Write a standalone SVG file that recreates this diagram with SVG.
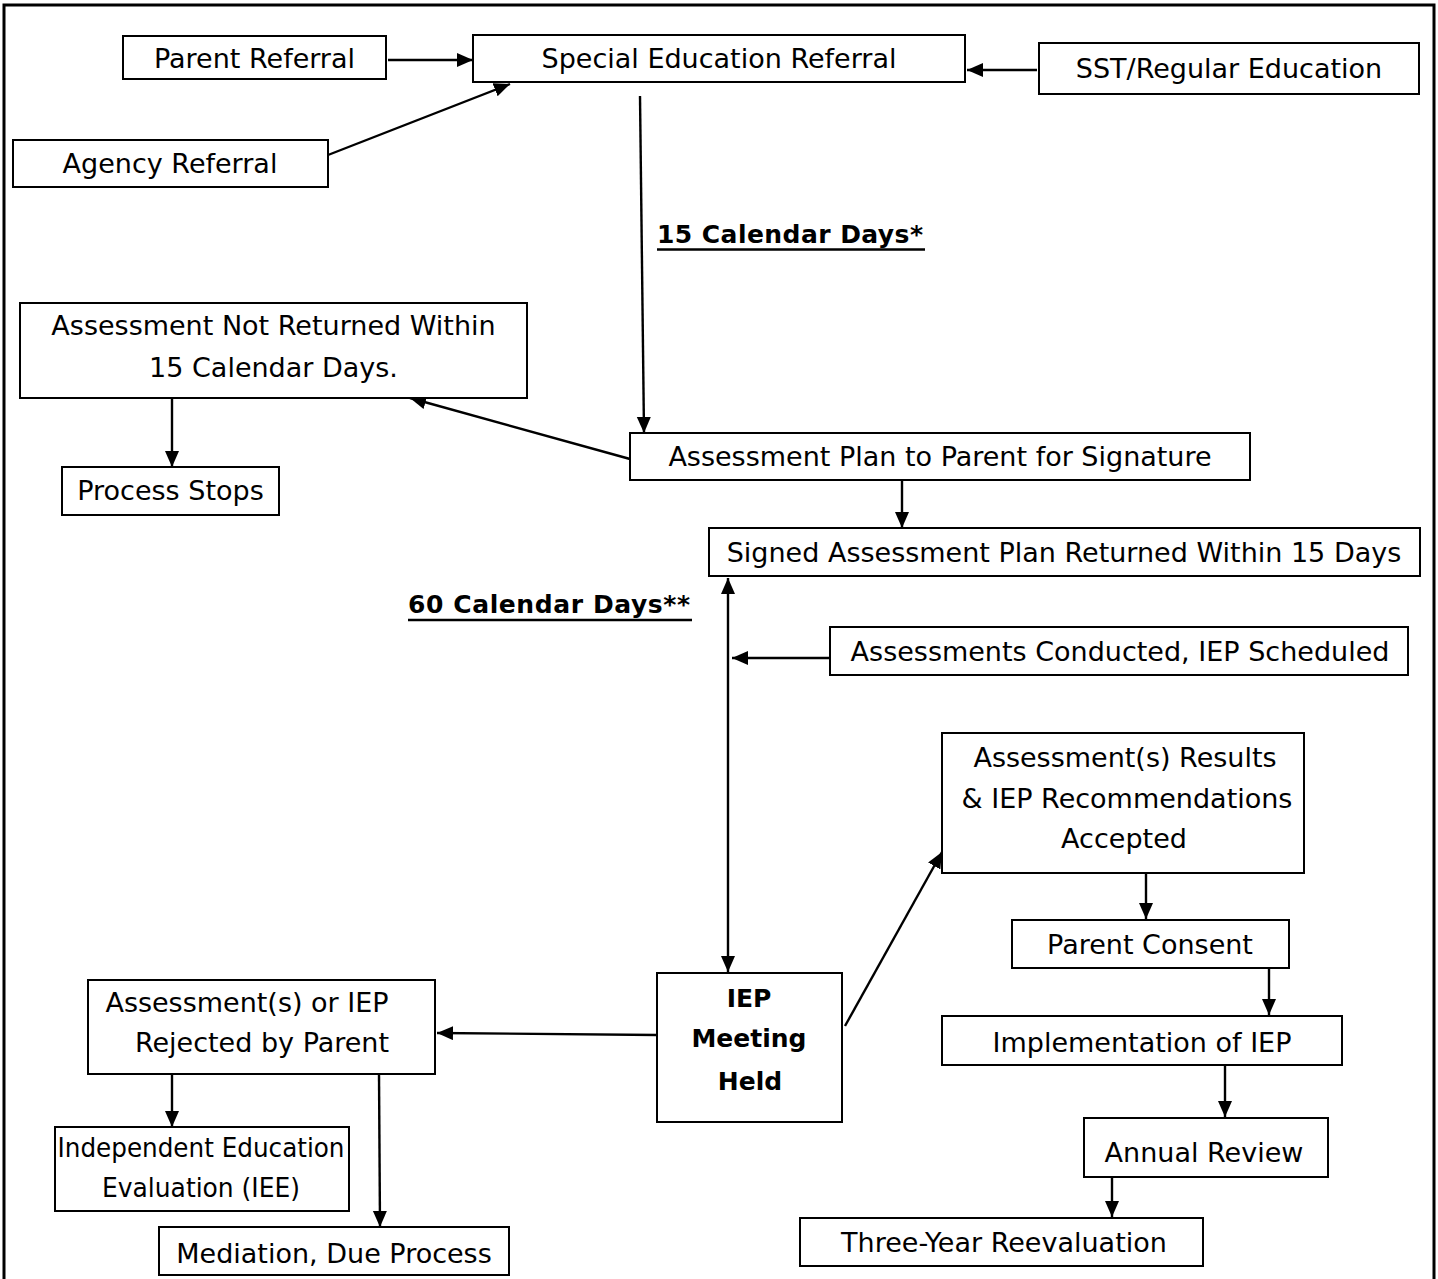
<svg xmlns="http://www.w3.org/2000/svg" width="1438" height="1279" viewBox="0 0 1438 1279">
<defs>
<marker id="ah" markerUnits="userSpaceOnUse" markerWidth="18" markerHeight="16" refX="16" refY="7" orient="auto-start-reverse">
<path d="M0,0 L16,7 L0,14 Z" fill="#000"/>
</marker>
<style>
.box{fill:#fff;stroke:#000;stroke-width:2}
.t{font-family:"DejaVu Sans",sans-serif;font-size:27px;fill:#000;text-anchor:middle}
.b{font-family:"DejaVu Sans",sans-serif;font-weight:bold;font-size:25px;fill:#000}
.c{stroke:#000;stroke-width:2.4;fill:none}
.a{marker-end:url(#ah)}
.u{stroke:#000;stroke-width:2.5}
</style>
</defs>
<rect x="4" y="5" width="1430" height="1290" fill="#fff" stroke="#000" stroke-width="3"/>

<g id="connectors">
<line class="c a" x1="388" y1="60" x2="473" y2="60"/>
<line class="c a" x1="1037" y1="70" x2="967" y2="70"/>
<line class="c a" x1="328" y1="155" x2="510" y2="84"/>
<line class="c a" x1="640" y1="96" x2="644" y2="433"/>
<line class="c a" x1="630" y1="459" x2="410" y2="398"/>
<line class="c a" x1="172" y1="398" x2="172" y2="467"/>
<line class="c a" x1="902" y1="481" x2="902" y2="528"/>
<line class="c a" x1="728" y1="578" x2="728" y2="972" marker-start="url(#ah)"/>
<line class="c a" x1="830" y1="658" x2="732" y2="658"/>
<line class="c a" x1="845" y1="1026" x2="942" y2="852"/>
<line class="c a" x1="657" y1="1035" x2="437" y2="1033"/>
<line class="c a" x1="172" y1="1074" x2="172" y2="1127"/>
<line class="c a" x1="379" y1="1074" x2="380" y2="1227"/>
<line class="c a" x1="1146" y1="873" x2="1146" y2="919"/>
<line class="c a" x1="1269" y1="968" x2="1269" y2="1015"/>
<line class="c a" x1="1225" y1="1065" x2="1225" y2="1117"/>
<line class="c a" x1="1112" y1="1177" x2="1112" y2="1217"/>
</g>

<g id="parent-referral"><rect class="box" x="123" y="36" width="263" height="43"/><text class="t" x="254.5" y="68">Parent Referral</text></g>
<g id="special-education-referral"><rect class="box" x="473" y="35" width="492" height="47"/><text class="t" x="719" y="68">Special Education Referral</text></g>
<g id="sst-regular-education"><rect class="box" x="1039" y="43" width="380" height="51"/><text class="t" x="1229" y="78">SST/Regular Education</text></g>
<g id="agency-referral"><rect class="box" x="13" y="140" width="315" height="47"/><text class="t" x="170" y="173">Agency Referral</text></g>

<g id="label-15-days"><text class="b" x="657" y="243" textLength="266">15 Calendar Days*</text><line class="u" x1="657" y1="249.5" x2="925" y2="249.5"/></g>

<g id="assessment-not-returned"><rect class="box" x="20" y="303" width="507" height="95"/><text class="t" x="273.5" y="335">Assessment Not Returned Within</text><text class="t" x="273.5" y="377">15 Calendar Days.</text></g>
<g id="process-stops"><rect class="box" x="62" y="467" width="217" height="48"/><text class="t" x="170.5" y="500">Process Stops</text></g>
<g id="assessment-plan"><rect class="box" x="630" y="433" width="620" height="47"/><text class="t" x="940" y="466">Assessment Plan to Parent for Signature</text></g>
<g id="signed-plan"><rect class="box" x="709" y="528" width="711" height="48"/><text class="t" x="1064" y="562">Signed Assessment Plan Returned Within 15 Days</text></g>

<g id="label-60-days"><text class="b" x="408" y="613" textLength="282">60 Calendar Days**</text><line class="u" x1="408" y1="620" x2="692" y2="620"/></g>

<g id="assessments-conducted"><rect class="box" x="830" y="627" width="578" height="48"/><text class="t" x="1120" y="661">Assessments Conducted, IEP Scheduled</text></g>
<g id="results-accepted"><rect class="box" x="942" y="733" width="362" height="140"/><text class="t" x="1125" y="767">Assessment(s) Results</text><text class="t" x="1127" y="808">&amp; IEP Recommendations</text><text class="t" x="1124" y="848">Accepted</text></g>
<g id="iep-meeting"><rect class="box" x="657" y="973" width="185" height="149"/><text class="b" x="749" y="1007" text-anchor="middle">IEP</text><text class="b" x="749" y="1047" text-anchor="middle">Meeting</text><text class="b" x="750" y="1090" text-anchor="middle">Held</text></g>
<g id="parent-consent"><rect class="box" x="1012" y="920" width="277" height="48"/><text class="t" x="1150" y="954">Parent Consent</text></g>
<g id="implementation"><rect class="box" x="942" y="1016" width="400" height="49"/><text class="t" x="1142" y="1052">Implementation of IEP</text></g>
<g id="annual-review"><rect class="box" x="1084" y="1118" width="244" height="59"/><text class="t" x="1204" y="1162">Annual Review</text></g>
<g id="three-year"><rect class="box" x="800" y="1218" width="403" height="48"/><text class="t" x="1004" y="1252">Three-Year Reevaluation</text></g>
<g id="rejected"><rect class="box" x="88" y="980" width="347" height="94"/><text class="t" x="247" y="1012">Assessment(s) or IEP</text><text class="t" x="262" y="1052">Rejected by Parent</text></g>
<g id="iee"><rect class="box" x="55" y="1127" width="294" height="84"/><text class="t" x="201" y="1157" textLength="287" lengthAdjust="spacingAndGlyphs">Independent Education</text><text class="t" x="201" y="1197" textLength="198" lengthAdjust="spacingAndGlyphs">Evaluation (IEE)</text></g>
<g id="mediation"><rect class="box" x="159" y="1227" width="350" height="48"/><text class="t" x="334" y="1263">Mediation, Due Process</text></g>
</svg>
